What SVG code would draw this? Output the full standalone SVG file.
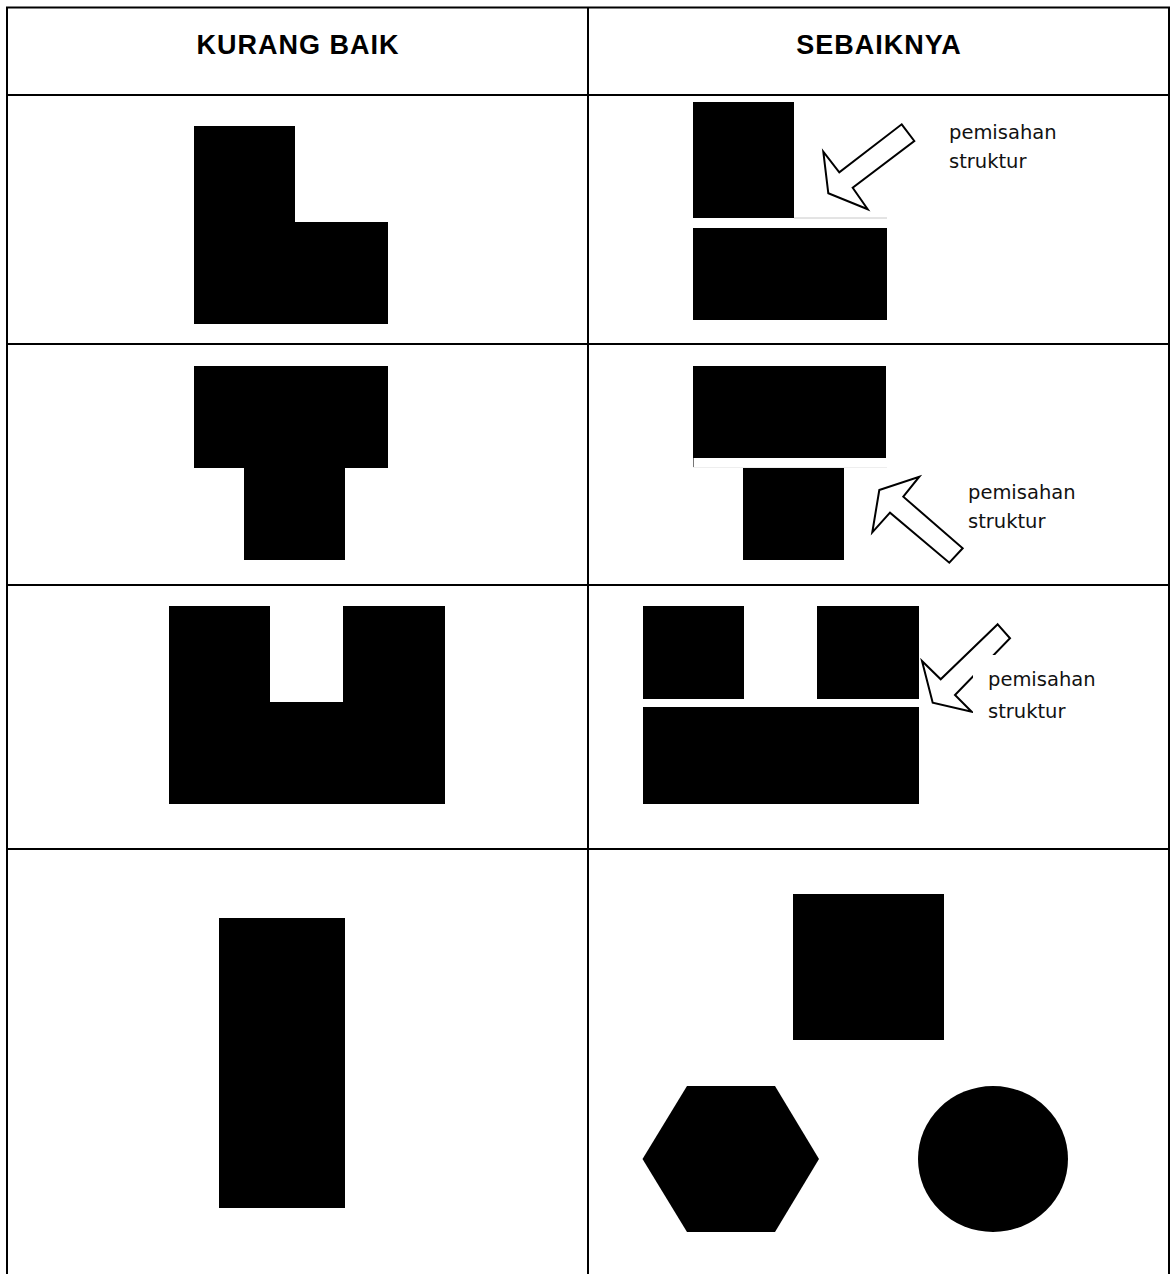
<svg xmlns="http://www.w3.org/2000/svg" width="1172" height="1274" viewBox="0 0 1172 1274">
<style>
.grid{stroke:#000;stroke-width:2;fill:none}
.blk{fill:#000}
.hair{stroke:#c8c8c8;stroke-width:1;fill:none}
.arrow{fill:#fff;stroke:#000;stroke-width:2;stroke-linejoin:miter}
.hdr{font-family:"Liberation Sans",Arial,sans-serif;font-weight:bold;font-size:27px;letter-spacing:1px;fill:#000;text-anchor:middle}
.lbl{font-family:"DejaVu Sans","Liberation Sans",sans-serif;font-size:19.5px;fill:#111}
</style>
<rect x="0" y="0" width="1172" height="1274" fill="#fff"/>
<g id="table">
<path class="grid" d="M7,1274V7.5H1169V1274M588,7.5V1274M7,95H1169M7,344H1169M7,585H1169M7,849H1169"/>
</g>
<g id="header-kurang-baik"><text class="hdr" x="298" y="54">KURANG BAIK</text></g>
<g id="header-sebaiknya"><text class="hdr" x="879" y="54">SEBAIKNYA</text></g>

<g id="row1-left-L"><path class="blk" d="M194,126H295V222H388V324H194Z"/></g>
<g id="row1-right">
<rect class="blk" x="693" y="102" width="101" height="116"/>
<line class="hair" x1="794" y1="218" x2="887" y2="218"/>
<rect class="blk" x="693" y="228" width="194" height="92"/>
</g>

<g id="row2-left-T"><path class="blk" d="M194,366H388V468H345V560H244V468H194Z"/></g>
<g id="row2-right">
<rect class="blk" x="693" y="366" width="193" height="92"/>
<line x1="693.5" y1="458" x2="693.5" y2="467" stroke="#777" stroke-width="1"/>
<line x1="693" y1="467.5" x2="887" y2="467.5" stroke="#eee" stroke-width="1"/>
<rect class="blk" x="743" y="468" width="101" height="92"/>
</g>

<g id="row3-left-U"><path class="blk" d="M169,606H270V702H343V606H445V804H169Z"/></g>
<g id="row3-right">
<rect class="blk" x="643" y="606" width="101" height="93"/>
<rect class="blk" x="817" y="606" width="102" height="93"/>
<rect class="blk" x="643" y="707" width="276" height="97"/>
</g>

<g id="row4-left-rect"><rect class="blk" x="219" y="918" width="126" height="290"/></g>
<g id="row4-right-square"><rect class="blk" x="793" y="894" width="151" height="146"/></g>
<g id="row4-right-hexagon"><polygon class="blk" points="687,1086 775,1086 819,1159 775,1232 687,1232 642.5,1159"/></g>
<g id="row4-right-circle"><ellipse class="blk" cx="993" cy="1159" rx="75" ry="73"/></g>

<g id="connectors">
<polygon class="arrow" points="901.7,124.3 914.3,141 852.7,187.7 867.7,209.3 828.3,193.3 823.3,151.7 839.3,172.3"/>
<polygon class="arrow" points="879.3,490 919.3,476.7 903.3,496.7 962.7,548.3 949.3,562.7 890,512.7 872.3,532.3"/>
<polygon class="arrow" points="997.7,624.3 1010,638.3 955,695 971.7,711.7 932.7,702.7 922,661 940.7,679.3"/>
</g>

<g id="label-row1">
<text class="lbl" x="949" y="138.5">pemisahan</text>
<text class="lbl" x="949" y="168">struktur</text>
</g>
<g id="label-row2">
<text class="lbl" x="968" y="498.5">pemisahan</text>
<text class="lbl" x="968" y="528">struktur</text>
</g>
<g id="label-row3">
<rect x="973" y="655" width="120" height="72" fill="#fff"/>
<text class="lbl" x="988" y="686">pemisahan</text>
<text class="lbl" x="988" y="718">struktur</text>
</g>
</svg>
